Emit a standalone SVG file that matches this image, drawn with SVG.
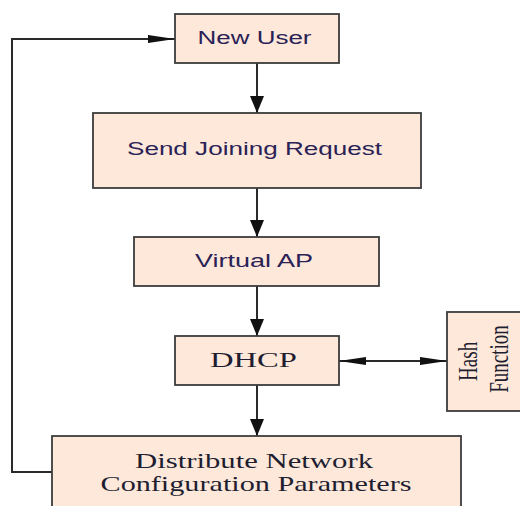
<svg xmlns="http://www.w3.org/2000/svg" width="520" height="506" viewBox="0 0 520 506">
  <style>
    .box { fill: #fde8da; stroke: #3c3c3c; stroke-width: 1.8; }
    .sans { font-family: "Liberation Sans", Arial, sans-serif; font-size: 17.5px; fill: #2a2256; }
    .serif { font-family: "Liberation Serif", "Times New Roman", serif; fill: #1e1e30; }
    .link { fill: none; stroke: #2a2a2a; stroke-width: 2; }
    .v { marker-end: url(#arrowV); }
  </style>
  <defs>
    <!-- arrowheads are wider than tall because the drawing is stretched horizontally -->
    <marker id="arrowV" markerUnits="userSpaceOnUse" markerWidth="17" markerHeight="14" refX="17" refY="7" orient="auto">
      <path d="M0,0 L17,7 L0,14 Z" fill="#111"/>
    </marker>
    <marker id="arrowH" markerUnits="userSpaceOnUse" markerWidth="27" markerHeight="8" refX="27" refY="4" orient="auto-start-reverse">
      <path d="M0,0 L27,4 L0,8 Z" fill="#111"/>
    </marker>
  </defs>

  <rect width="520" height="506" fill="#ffffff"/>

  <g id="connectors">
    <line class="link v" x1="257" y1="63" x2="257" y2="113"/>
    <line class="link v" x1="257" y1="188" x2="257" y2="237"/>
    <line class="link v" x1="257" y1="286" x2="257" y2="336"/>
    <line class="link v" x1="257" y1="385" x2="257" y2="436"/>
    <line class="link" x1="339" y1="361" x2="447" y2="361" marker-start="url(#arrowH)" marker-end="url(#arrowH)"/>
    <path class="link" d="M52,472 H12 V39 H175" marker-end="url(#arrowH)"/>
  </g>

  <g id="new-user">
    <rect class="box" x="175" y="14" width="164" height="49"/>
    <text class="sans" x="254.5" y="43.5" text-anchor="middle" textLength="114" lengthAdjust="spacingAndGlyphs">New User</text>
  </g>

  <g id="send-joining-request">
    <rect class="box" x="93" y="113" width="328" height="75"/>
    <text class="sans" x="254.5" y="155" text-anchor="middle" textLength="255" lengthAdjust="spacingAndGlyphs">Send Joining Request</text>
  </g>

  <g id="virtual-ap">
    <rect class="box" x="134" y="237" width="245" height="49"/>
    <text class="sans" x="254" y="266.7" text-anchor="middle" textLength="118" lengthAdjust="spacingAndGlyphs">Virtual AP</text>
  </g>

  <g id="dhcp">
    <rect class="box" x="175" y="336" width="164" height="49"/>
    <text class="serif" x="253.5" y="367" font-size="21" text-anchor="middle" textLength="87" lengthAdjust="spacingAndGlyphs">DHCP</text>
  </g>

  <g id="hash-function">
    <rect class="box" x="447" y="312" width="90" height="99"/>
    <text class="serif" font-size="19" text-anchor="middle" transform="translate(477,359) scale(1.47,1) rotate(-90)">
      <tspan x="0" y="0">Hash</tspan>
      <tspan x="0" y="21">Function</tspan>
    </text>
  </g>

  <g id="distribute-parameters">
    <rect class="box" x="52" y="436" width="409" height="90"/>
    <text class="serif" x="254" y="467.7" font-size="21.5" text-anchor="middle" textLength="238" lengthAdjust="spacingAndGlyphs">Distribute Network</text>
    <text class="serif" x="256" y="491" font-size="21.5" text-anchor="middle" textLength="311" lengthAdjust="spacingAndGlyphs">Configuration Parameters</text>
  </g>
</svg>
